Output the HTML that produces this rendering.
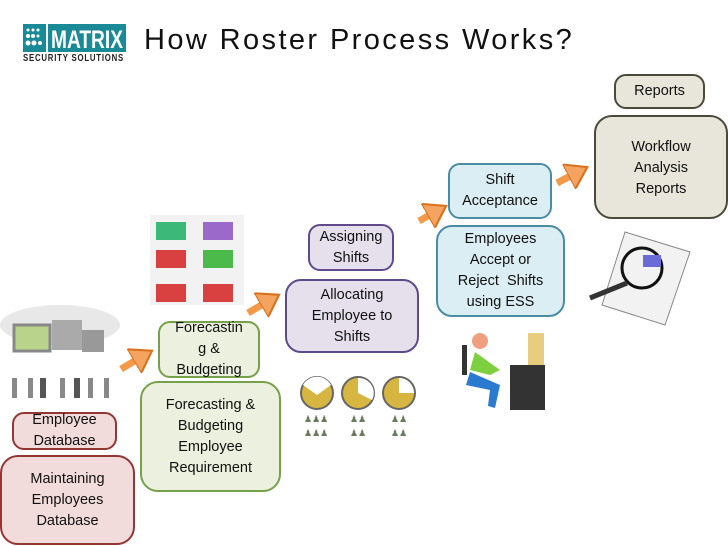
<!DOCTYPE html>
<html><head><style>
body{margin:0;width:728px;height:546px;background:#fff;position:relative;overflow:hidden;font-family:"Liberation Sans",sans-serif;}
.b{position:absolute;box-sizing:border-box;border:2px solid;border-radius:12px;display:flex;align-items:center;justify-content:center;text-align:center;font-size:14.5px;line-height:21px;color:#111;}
.r{background:#f2dcdb;border-color:#943634}
.g{background:#ebf1de;border-color:#77a04a}
.p{background:#e5e0ec;border-color:#5f4b8b}
.c{background:#dbeef3;border-color:#4a8ca3}
.t{background:#e8e5da;border-color:#4a4a3a}
.a{position:absolute;}
</style></head><body>
<div class="a" style="left:23px;top:24px;width:103px;height:28px;background:#1a8a96"></div>
<svg class="a" style="left:48px;top:24px" width="78" height="28"><text x="39" y="24" text-anchor="middle" font-family="Liberation Sans" font-weight="bold" font-size="25" fill="#fff" textLength="72" lengthAdjust="spacingAndGlyphs">MATRIX</text></svg>
<div class="a" style="left:46px;top:24px;width:2px;height:28px;background:#fff"></div>
<svg class="a" style="left:25px;top:27px" width="20" height="22"><g fill="#fff"><circle cx="3" cy="3" r="1.5"/><circle cx="8" cy="3" r="1.5"/><circle cx="13" cy="3" r="1.5"/><circle cx="3" cy="9" r="2"/><circle cx="8" cy="9" r="2"/><circle cx="13" cy="9" r="1.5"/><circle cx="3" cy="16" r="2.5"/><circle cx="9" cy="16" r="2.5"/><circle cx="15" cy="16" r="2"/></g></svg>
<div class="a" style="left:23px;top:53px;width:104px;font-size:10px;font-weight:bold;color:#222;white-space:nowrap"><span style="display:inline-block;transform:scaleX(0.78);transform-origin:left;letter-spacing:1px">SECURITY SOLUTIONS</span></div>
<div class="a" style="left:144px;top:24px;font-size:29px;color:#111;white-space:nowrap;letter-spacing:2.4px">How Roster Process Works?</div>

<div class="b t" style="left:614px;top:74px;width:91px;height:35px">Reports</div>
<div class="b t" style="left:594px;top:115px;width:134px;height:104px;border-radius:18px;align-items:flex-start;padding-top:20px">Workflow<br>Analysis<br>Reports</div>
<div class="b c" style="left:448px;top:163px;width:104px;height:56px">Shift<br>Acceptance</div>
<div class="b c" style="left:436px;top:225px;width:129px;height:92px;border-radius:16px">Employees<br>Accept or<br>Reject&nbsp; Shifts<br>using ESS</div>
<div class="b p" style="left:308px;top:224px;width:86px;height:47px">Assigning<br>Shifts</div>
<div class="b p" style="left:285px;top:279px;width:134px;height:74px;border-radius:16px">Allocating<br>Employee to<br>Shifts</div>
<div class="b g" style="left:158px;top:321px;width:102px;height:57px;line-height:21px">Forecastin<br>g &amp;<br>Budgeting</div>
<div class="b g" style="left:140px;top:381px;width:141px;height:111px;border-radius:18px">Forecasting &amp;<br>Budgeting<br>Employee<br>Requirement</div>
<div class="b r" style="left:12px;top:412px;width:105px;height:38px">Employee<br>Database</div>
<div class="b r" style="left:0px;top:455px;width:135px;height:90px;border-radius:18px">Maintaining<br>Employees<br>Database</div>

<svg class="a" style="left:0;top:0" width="728" height="546">
<defs><marker id="m" markerWidth="4" markerHeight="4" refX="1.5" refY="2" orient="auto"><path d="M0,0L3,2L0,4z" fill="#f4a460" stroke="#d9711e" stroke-width="0.3"/></marker></defs>
<g stroke="#f29a4a" stroke-width="7" marker-end="url(#m)">
<line x1="121" y1="369" x2="143" y2="356"/>
<line x1="248" y1="313" x2="270" y2="300"/>
<line x1="419" y1="221" x2="437" y2="211"/>
<line x1="557" y1="183" x2="578" y2="172"/>
</g>
<rect x="150" y="215" width="94" height="90" fill="#f2f2f2"/>
<g>
<rect x="156" y="222" width="30" height="18" fill="#3cb878"/><rect x="203" y="222" width="30" height="18" fill="#9a6acb"/>
<rect x="156" y="250" width="30" height="18" fill="#d94040"/><rect x="203" y="250" width="30" height="18" fill="#4cba4a"/>
<rect x="156" y="284" width="30" height="18" fill="#d94040"/><rect x="203" y="284" width="30" height="18" fill="#d94040"/>
</g>
<ellipse cx="60" cy="325" rx="60" ry="20" fill="#e8e8e8"/>
<rect x="14" y="325" width="36" height="26" fill="#b9d48a" stroke="#888" stroke-width="3"/>
<rect x="52" y="320" width="30" height="30" fill="#aaa"/>
<rect x="82" y="330" width="22" height="22" fill="#999"/>
<g fill="#888"><rect x="12" y="378" width="5" height="20"/><rect x="28" y="378" width="5" height="20"/><rect x="40" y="378" width="6" height="20" fill="#555"/><rect x="60" y="378" width="5" height="20"/><rect x="74" y="378" width="6" height="20" fill="#555"/><rect x="88" y="378" width="5" height="20"/><rect x="104" y="378" width="5" height="20"/></g>
<g stroke="#666" stroke-width="2" fill="#d6b640">
<circle cx="317" cy="393" r="16"/><circle cx="358" cy="393" r="16"/><circle cx="399" cy="393" r="16"/></g>
<path d="M303,385 L317,395 L331,385 A16,16 0 0 0 303,385Z" fill="#fff"/>
<path d="M358,393 L358,378 A15,15 0 0 1 372,400Z" fill="#fff"/>
<path d="M399,393 L399,378 A15,15 0 0 1 414,393Z" fill="#fff"/>
<g fill="#6a7a5e" font-size="9"><text x="304" y="422">♟♟♟</text><text x="304" y="436">♟♟♟</text><text x="350" y="422">♟♟</text><text x="350" y="436">♟♟</text><text x="391" y="422">♟♟</text><text x="391" y="436">♟♟</text></g>
<circle cx="480" cy="341" r="8" fill="#f0a080"/>
<rect x="462" y="345" width="5" height="30" fill="#333"/>
<path d="M475,352 L500,370 L490,375 L470,370Z" fill="#7ed040"/>
<path d="M470,372 L500,385 L495,408 L488,406 L490,390 L466,385Z" fill="#2a7ad0"/>
<rect x="510" y="365" width="35" height="45" fill="#333"/>
<rect x="528" y="333" width="16" height="32" fill="#e8cc80"/>
<path d="M625,232 L690,252 L665,325 L602,305Z" fill="#f2f2f2" stroke="#888"/>
<circle cx="642" cy="268" r="20" fill="none" stroke="#111" stroke-width="3"/>
<rect x="643" y="255" width="18" height="12" fill="#6b6bd8"/>
<line x1="627" y1="283" x2="590" y2="298" stroke="#333" stroke-width="5"/>
</svg>
</body></html>
